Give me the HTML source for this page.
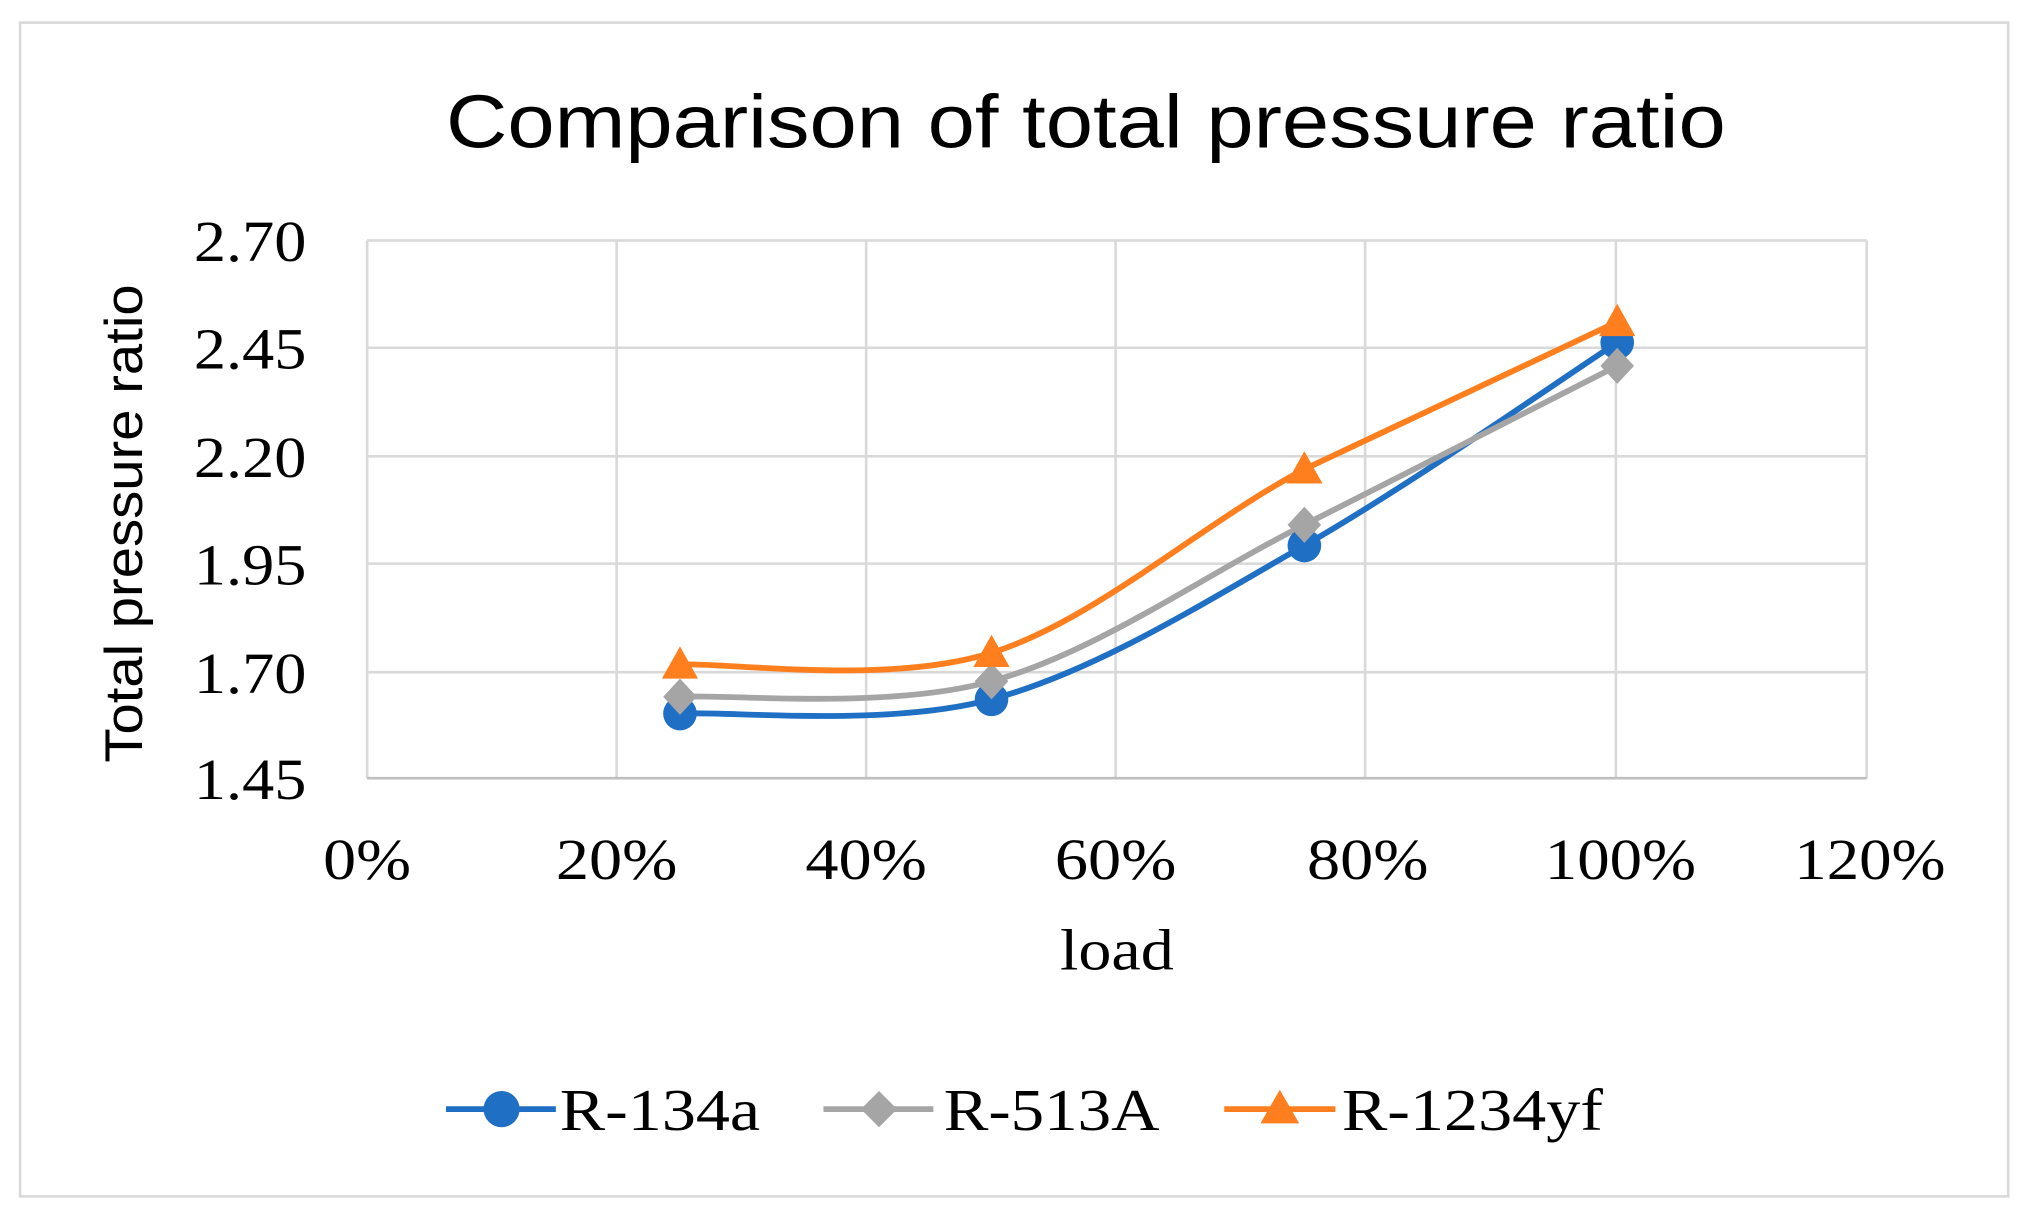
<!DOCTYPE html>
<html><head><style>html,body{margin:0;padding:0;background:#fff}svg{display:block}</style></head>
<body>
<svg width="2027" height="1219" viewBox="0 0 1568 943" preserveAspectRatio="none" xmlns="http://www.w3.org/2000/svg">
<rect x="0" y="0" width="1568" height="943" fill="#fff"/>
<rect x="15.5" y="17.5" width="1538" height="908" fill="#fff" stroke="#d9d9d9" stroke-width="2"/>
<text x="345" y="114" textLength="990" lengthAdjust="spacingAndGlyphs" font-family="Liberation Sans, sans-serif" font-size="58" fill="#000">Comparison of total pressure ratio</text>
<g stroke="#d9d9d9" stroke-width="2">
<line x1="284" y1="186" x2="1444" y2="186"/><line x1="284" y1="269" x2="1444" y2="269"/><line x1="284" y1="353" x2="1444" y2="353"/><line x1="284" y1="436" x2="1444" y2="436"/><line x1="284" y1="520" x2="1444" y2="520"/>
<line x1="284" y1="186" x2="284" y2="602"/><line x1="477" y1="186" x2="477" y2="602"/><line x1="670" y1="186" x2="670" y2="602"/><line x1="863" y1="186" x2="863" y2="602"/><line x1="1056" y1="186" x2="1056" y2="602"/><line x1="1250" y1="186" x2="1250" y2="602"/><line x1="1444" y1="186" x2="1444" y2="602"/>
</g>
<line x1="284" y1="602" x2="1444" y2="602" stroke="#bfbfbf" stroke-width="2"/>
<g font-family="Liberation Serif, serif" font-size="45" fill="#000">
<text x="150" y="202" textLength="87" lengthAdjust="spacingAndGlyphs">2.70</text><text x="150" y="285" textLength="87" lengthAdjust="spacingAndGlyphs">2.45</text><text x="150" y="369" textLength="87" lengthAdjust="spacingAndGlyphs">2.20</text><text x="150" y="452" textLength="87" lengthAdjust="spacingAndGlyphs">1.95</text><text x="150" y="536" textLength="87" lengthAdjust="spacingAndGlyphs">1.70</text><text x="150" y="618" textLength="87" lengthAdjust="spacingAndGlyphs">1.45</text>
</g>
<g font-family="Liberation Serif, serif" font-size="45" fill="#000">
<text x="250" y="680" textLength="68" lengthAdjust="spacingAndGlyphs">0%</text>
<text x="430" y="680" textLength="94" lengthAdjust="spacingAndGlyphs">20%</text>
<text x="623" y="680" textLength="94" lengthAdjust="spacingAndGlyphs">40%</text>
<text x="816" y="680" textLength="94" lengthAdjust="spacingAndGlyphs">60%</text>
<text x="1011" y="680" textLength="94" lengthAdjust="spacingAndGlyphs">80%</text>
<text x="1195" y="680" textLength="117" lengthAdjust="spacingAndGlyphs">100%</text>
<text x="1388" y="680" textLength="117" lengthAdjust="spacingAndGlyphs">120%</text>
<text x="820" y="750" textLength="88" lengthAdjust="spacingAndGlyphs">load</text>
</g>
<text transform="translate(110,590) rotate(-90)" textLength="370" lengthAdjust="spacingAndGlyphs" font-family="Liberation Sans, sans-serif" font-size="41" fill="#000">Total pressure ratio</text>
<g fill="none" stroke-width="4.5">
<path d="M526,552 C566,550 686.5,562.7 767,541 C847.5,519.3 928.3,468 1009,422 C1089.7,376 1210.7,291.2 1251,265" stroke="#1f6fc5"/>
<path d="M526,539 C566,537 686.5,549.2 767,527 C847.5,504.8 928.3,446.7 1009,406 C1089.7,365.3 1210.7,303.5 1251,283" stroke="#a5a5a5"/>
<path d="M526,514 C566,512.5 686.5,530.2 767,505 C847.5,479.8 928.3,405.7 1009,363 C1089.7,325 1210.7,268 1251,249" stroke="#ff7f1e"/>
</g>
<g fill="#1f6fc5"><circle cx="526" cy="552" r="13"/><circle cx="767" cy="541" r="13"/><circle cx="1009" cy="422" r="13"/><circle cx="1251" cy="265" r="13"/></g>
<g fill="#a5a5a5"><path d="M526,525 l13,14 -13,14 -13,-14z"/><path d="M767,513 l13,14 -13,14 -13,-14z"/><path d="M1009,392 l13,14 -13,14 -13,-14z"/><path d="M1251,269 l13,14 -13,14 -13,-14z"/></g>
<g fill="#ff7f1e"><path d="M526,500 l14,25 -28,0z"/><path d="M767,491 l14,25 -28,0z"/><path d="M1009,349 l14,25 -28,0z"/><path d="M1251,235 l14,25 -28,0z"/></g>
<g stroke-width="4.5">
<line x1="345" y1="858" x2="430" y2="858" stroke="#1f6fc5"/>
<line x1="637" y1="858" x2="722" y2="858" stroke="#a5a5a5"/>
<line x1="947" y1="858" x2="1033" y2="858" stroke="#ff7f1e"/>
</g>
<circle cx="388" cy="858" r="14" fill="#1f6fc5"/>
<path d="M680,844 l14,14 -14,14 -14,-14z" fill="#a5a5a5"/>
<path d="M990,843 l15,26 -30,0z" fill="#ff7f1e"/>
<g font-family="Liberation Serif, serif" font-size="46" fill="#000">
<text x="433" y="874" textLength="155" lengthAdjust="spacingAndGlyphs">R-134a</text><text x="730" y="874" textLength="167" lengthAdjust="spacingAndGlyphs">R-513A</text><text x="1038" y="874" textLength="202" lengthAdjust="spacingAndGlyphs">R-1234yf</text>
</g>
</svg>
</body></html>
